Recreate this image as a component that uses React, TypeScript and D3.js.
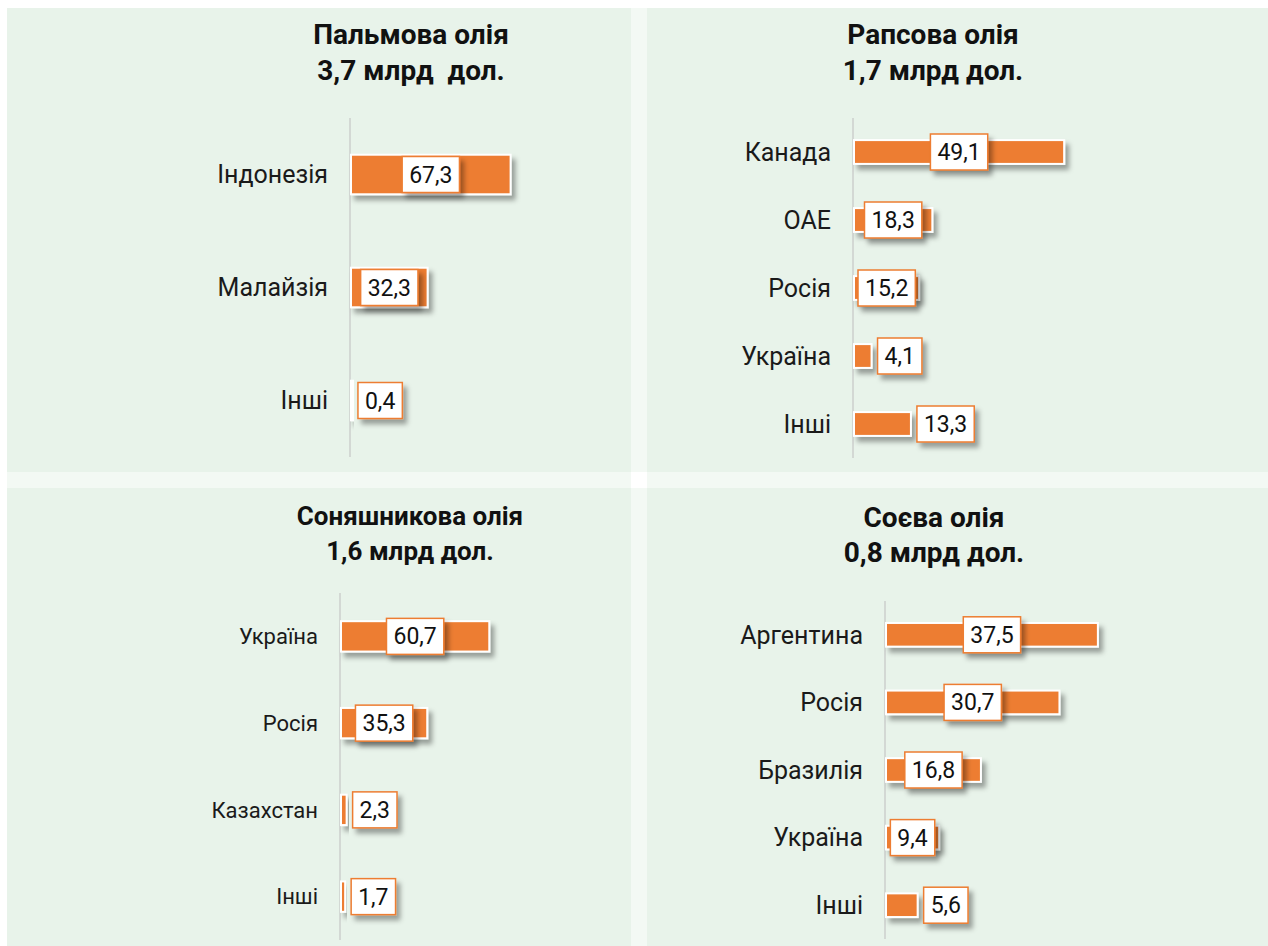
import React, { useEffect, useRef } from 'react';
import * as d3 from 'd3';

// Palm oil
const palmCountries = ['Індонезія', 'Малайзія', 'Інші'];
const palmShares = [67.3, 32.3, 0.4];
const palmTitle = ['Пальмова олія', '3,7 млрд  дол.'];

// Rapeseed oil
const rapeCountries = ['Канада', 'ОАЕ', 'Росія', 'Україна', 'Інші'];
const rapeShares = [49.1, 18.3, 15.2, 4.1, 13.3];
const rapeTitle = ['Рапсова олія', '1,7 млрд дол.'];

// Sunflower oil
const sunCountries = ['Україна', 'Росія', 'Казахстан', 'Інші'];
const sunShares = [60.7, 35.3, 2.3, 1.7];
const sunTitle = ['Соняшникова олія', '1,6 млрд дол.'];

// Soybean oil
const soyCountries = ['Аргентина', 'Росія', 'Бразилія', 'Україна', 'Інші'];
const soyShares = [37.5, 30.7, 16.8, 9.4, 5.6];
const soyTitle = ['Соєва олія', '0,8 млрд дол.'];

const ORANGE = '#ED7D31';
const BG = '#E8F3EA';
const FONT = 'Roboto, "Noto Sans", sans-serif';

const fmt = (v: number) => String(v).replace('.', ',');

const App = () => {
    const ref = useRef<SVGSVGElement>(null);

    useEffect(() => {
        const svg = d3.select(ref.current);
        svg.selectAll('*').remove();

        const defs = svg.append('defs');
        defs.append('filter')
            .attr('id', 'shadow')
            .attr('x', '-20%').attr('y', '-40%')
            .attr('width', '150%').attr('height', '200%')
            .append('feDropShadow')
            .attr('dx', 4).attr('dy', 5)
            .attr('stdDeviation', 2.5)
            .attr('flood-color', '#000')
            .attr('flood-opacity', 0.35);

        // page background and panel gaps
        svg.append('rect').attr('x', 0).attr('y', 0).attr('width', 1268).attr('height', 946).attr('fill', '#fff');
        svg.append('rect').attr('x', 7).attr('y', 472).attr('width', 1261).attr('height', 16).attr('fill', '#F3F9F4');
        svg.append('rect').attr('x', 631).attr('y', 8).attr('width', 16).attr('height', 938).attr('fill', '#F3F9F4');
        svg.append('rect').attr('x', 631).attr('y', 472).attr('width', 16).attr('height', 16).attr('fill', '#fff');

        const panels = [
            { box: [7, 8, 624, 464], title: palmTitle, titleX: 411, titleY: [44, 80], titleSize: 28,
              cats: palmCountries, vals: palmShares, axisX: 350, yRange: [118, 457], xMax: 70, xEnd: 517, catSize: 25 },
            { box: [647, 8, 621, 464], title: rapeTitle, titleX: 933, titleY: [44, 80], titleSize: 28,
              cats: rapeCountries, vals: rapeShares, axisX: 853, yRange: [118, 458], xMax: 50, xEnd: 1068, catSize: 25 },
            { box: [7, 488, 624, 458], title: sunTitle, titleX: 410, titleY: [525, 560], titleSize: 26,
              cats: sunCountries, vals: sunShares, axisX: 340, yRange: [593, 940], xMax: 70, xEnd: 512, catSize: 22 },
            { box: [647, 488, 621, 458], title: soyTitle, titleX: 934, titleY: [527, 562], titleSize: 28,
              cats: soyCountries, vals: soyShares, axisX: 885, yRange: [601, 939], xMax: 40, xEnd: 1112, catSize: 25 },
        ];

        panels.forEach(p => {
            const g = svg.append('g');
            g.append('rect')
                .attr('x', p.box[0]).attr('y', p.box[1])
                .attr('width', p.box[2]).attr('height', p.box[3])
                .attr('fill', BG);

            g.selectAll('.title')
                .data(p.title)
                .enter().append('text')
                .attr('x', p.titleX)
                .attr('y', (d, i) => p.titleY[i])
                .attr('text-anchor', 'middle')
                .attr('font-family', FONT)
                .attr('font-weight', 700)
                .attr('font-size', p.titleSize)
                .attr('fill', '#111')
                .style('white-space', 'pre')
                .text(d => d);

            const data = p.cats.map((c, i) => ({ cat: c, val: p.vals[i] }));

            const y = d3.scaleBand()
                .domain(p.cats)
                .range(p.yRange as [number, number])
                .paddingInner(0.65)
                .paddingOuter(0.325);

            const x = d3.scaleLinear()
                .domain([0, p.xMax])
                .range([p.axisX + 1, p.xEnd]);

            // axis line
            g.append('line')
                .attr('x1', p.axisX).attr('x2', p.axisX)
                .attr('y1', p.yRange[0]).attr('y2', p.yRange[1])
                .attr('stroke', '#D3D8D4')
                .attr('stroke-width', 2);

            // category labels
            g.selectAll('.cat')
                .data(data)
                .enter().append('text')
                .attr('x', p.axisX - 22)
                .attr('y', d => y(d.cat)! + y.bandwidth() / 2)
                .attr('dy', '0.35em')
                .attr('text-anchor', 'end')
                .attr('font-family', FONT)
                .attr('font-size', p.catSize)
                .attr('fill', '#1a1a1a')
                .text(d => d.cat);

            // bars
            g.selectAll('.bar')
                .data(data)
                .enter().append('rect')
                .attr('x', x(0))
                .attr('y', d => y(d.cat)!)
                .attr('width', d => Math.max(2, x(d.val) - x(0)))
                .attr('height', y.bandwidth())
                .attr('fill', ORANGE)
                .attr('stroke', '#fff')
                .attr('stroke-width', 2)
                .attr('filter', 'url(#shadow)');

            // value labels
            const lbl = g.selectAll('.lbl')
                .data(data)
                .enter().append('g');

            const boxRects = lbl.append('rect')
                .attr('fill', '#fff')
                .attr('stroke', ORANGE)
                .attr('stroke-width', 1.5)
                .attr('filter', 'url(#shadow)');

            const texts = lbl.append('text')
                .attr('text-anchor', 'middle')
                .attr('dy', '0.35em')
                .attr('font-family', FONT)
                .attr('font-size', 23)
                .attr('fill', '#111')
                .text(d => fmt(d.val));

            texts.each(function (d: any) {
                const tw = (this as SVGTextElement).getComputedTextLength();
                const bw = tw + 14;
                const barW = x(d.val) - x(0);
                let cx;
                if (barW >= bw) {
                    cx = Math.max(x(0) + barW / 2, p.axisX + 5 + bw / 2);
                } else {
                    cx = x(d.val) + 6 + bw / 2;
                }
                d.cx = cx;
                d.bw = bw;
                d3.select(this)
                    .attr('x', cx)
                    .attr('y', y(d.cat)! + y.bandwidth() / 2);
            });

            boxRects
                .attr('x', (d: any) => d.cx - d.bw / 2)
                .attr('y', d => y(d.cat)! + y.bandwidth() / 2 - 18)
                .attr('width', (d: any) => d.bw)
                .attr('height', 36);
        });
    }, []);

    return (
        <svg
            ref={ref}
            width={1268}
            height={946}
            style={{ position: 'absolute', left: 0, top: 0, display: 'block' }}
        />
    );
};

export default App;
